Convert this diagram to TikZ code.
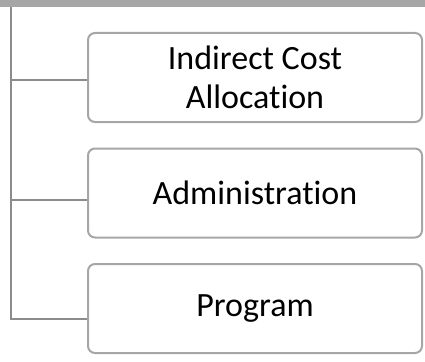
\documentclass[tikz,border=0pt]{standalone}
\usepackage{fontspec}
\setmainfont{Carlito}[RawFeature=-liga]
\definecolor{barcol}{HTML}{A6A6A6}
\definecolor{trunkcol}{HTML}{8C8C8C}
\definecolor{boxcol}{HTML}{A6A6A6}
\begin{document}
\begin{tikzpicture}[x=1pt,y=-1pt,
  itembox/.style={draw=boxcol, line width=2pt, rounded corners=7pt, fill=white,
    minimum width=334pt, minimum height=89pt, inner sep=0pt, align=center,
    font=\fontsize{34}{39}\selectfont, text=black},
  trunkline/.style={draw=trunkcol, line width=2pt}]
\useasboundingbox (0,0) rectangle (425,361);
\fill[barcol] (0,0) rectangle (425,7);
\node[itembox] (b1) at (255,77.5) {Indirect Cost\\Allocation};
\node[itembox] (b2) at (255,193) {Administration};
\node[itembox] (b3) at (255,308.5) {Program};
\coordinate (top) at (11,7);
\coordinate (t1) at (11,80);
\coordinate (t2) at (11,200);
\coordinate (t3) at (11,319);
\draw[trunkline] (top) -- (t3) -- (t3 -| b3.west);
\draw[trunkline] (t1) -- (t1 -| b1.west);
\draw[trunkline] (t2) -- (t2 -| b2.west);
\end{tikzpicture}
\end{document}
